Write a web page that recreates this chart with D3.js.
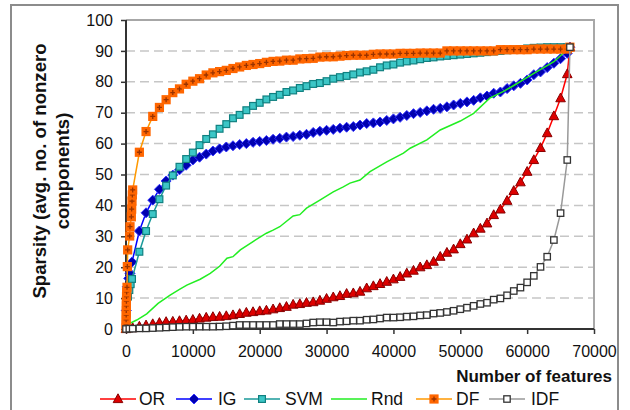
<!DOCTYPE html>
<html><head><meta charset="utf-8">
<script src="https://cdn.jsdelivr.net/npm/d3@7"></script>
<style>
html,body{margin:0;padding:0;background:#fff;}
svg{display:block;font-family:"Liberation Sans",Arial,sans-serif;}
</style></head>
<body><svg id="chart" width="630" height="410"></svg>
<script>
// ---------- DATA ----------
const seriesNames = ["OR","IG","SVM","Rnd","DF","IDF"];
const xTicks = [0,10000,20000,30000,40000,50000,60000,70000];
const yTicks = [0,10,20,30,40,50,60,70,80,90,100];

// shared sampling grid (number of features)
const grid = [1000,2000,3000,4000,5000,6000,7000,8000,9000,10000,11000,12000,13000,14000,15000,16000,17000,18000,19000,20000,
21000,22000,23000,24000,25000,26000,27000,28000,29000,30000,31000,32000,33000,34000,35000,36000,37000,38000,39000,40000,
41000,42000,43000,44000,45000,46000,47000,48000,49000,50000,51000,52000,53000,54000,55000,56000,57000,58000,59000,60000,
61000,62000,63000,64000,65000,66000,66400];

const orX = [0].concat(grid);
const orY = [0,0.3,0.8,1.2,1.6,2.0,2.3,2.4,2.6,2.8,3.0,3.4,3.7,3.9,4.0,4.2,4.5,4.9,5.3,5.5,5.8,6.0,6.4,6.8,7.2,7.9,8.1,8.5,8.7,9.2,9.8,
10.3,10.7,11.4,11.6,12.1,13.2,13.9,14.6,15.3,16.1,16.9,18.0,18.9,20.0,20.7,21.8,23.4,24.7,25.8,27.5,29.0,31.0,32.5,34.2,36.9,
38.7,41.5,44.7,47.5,50.9,54.7,58.6,63.4,68.9,74.7,82.5,91.2];

const igX = [50,200,400,600,900].concat(grid.slice(1));
const igY = [6,13.7,16.4,18.0,21.7,31.7,37.6,41.7,45.2,47.9,49.8,51.5,53.0,54.7,55.6,56.6,57.6,58.3,58.9,59.3,59.7,60.0,60.4,60.7,
61.0,61.4,61.7,62.1,62.3,62.7,63.0,63.6,64.0,64.3,64.6,65.0,65.3,65.5,66.0,66.5,66.7,67.0,67.5,68.0,68.5,69.1,69.7,70.1,70.6,
71.1,71.4,71.9,72.5,73.0,73.5,74.0,74.8,75.4,76.3,76.7,77.8,78.7,79.5,80.6,82.3,83.2,84.6,86.0,87.5,89.2,91.2];

const svmX = [100,300,500,700,900].concat(grid.slice(1));
const svmY = [5,10.5,12.6,14.5,16.2,25.0,31.7,37.2,42.0,46.4,49.7,52.5,55.0,57.1,59.5,61.5,63.0,64.8,66.3,68.2,69.3,70.8,72.2,73.2,
74.3,75.1,75.8,76.7,77.2,78.0,78.6,79.3,79.6,80.2,81.0,81.5,81.9,82.4,83.0,83.4,83.9,84.7,85.3,85.6,86.2,86.6,86.9,87.3,87.7,
87.9,88.2,88.4,88.6,88.8,89.0,89.2,89.4,89.6,89.8,90.0,90.2,90.4,90.6,90.8,91.0,91.1,91.2,91.2,91.2,91.2,91.2];

const rndX = [100,1600,3100,4800,6600,8000,9100,11100,12600,14000,15100,16000,17100,19000,21000,22000,23000,25000,26000,27000,
29000,31000,32500,33500,35000,36500,39000,41500,42500,45000,47000,50000,52000,54400,56400,58000,61000,64000,66400];
const rndY = [1.3,2.9,4.9,8.3,11.0,12.8,14.2,16.1,18.0,20.3,22.9,23.4,25.6,28.3,31.0,32.0,33.1,36.6,37.0,39.1,
41.7,44.4,46.0,47.2,48.2,50.9,54.1,56.9,58.5,61.2,64.4,67.3,69.8,74.7,76.8,78.8,82.7,86.5,91.2];

const dfX = [0,10,20,30,40,50,60,80,100,150,200,250,550,600,800,850,900,950].concat(grid);
const dfY = [0.3,1.5,3,4.5,6,7.5,9,10.5,12,13.5,20.2,25.6,30.1,33.1,36.3,38.8,41.4,43.4,45.0,57.2,63.9,68.8,71.7,74.2,76.5,77.7,79.2,80.2,
81.0,82.2,82.9,83.3,83.7,84.3,84.8,85.3,85.6,85.9,86.3,86.6,86.7,87.0,87.0,87.4,87.5,87.6,88.0,88.1,88.1,88.3,88.5,88.6,88.6,
88.6,88.9,89.0,89.0,89.0,89.2,89.2,89.2,89.3,89.3,89.3,89.3,90.0,90.0,90.0,90.0,90.0,90.0,90.0,90.0,90.4,90.4,90.4,90.4,90.4,
90.6,90.6,90.6,90.6,90.6,90.6,91.2];

const idfX = [0,500].concat(grid);
const idfY = [0,0.1,0.1,0.2,0.2,0.3,0.4,0.5,0.6,0.7,0.75,0.75,0.75,0.75,0.75,0.8,0.9,1.1,1.3,1.3,1.3,1.3,1.3,1.3,1.6,1.6,1.6,1.6,
1.8,2.1,2.2,2.2,2.1,2.4,2.5,2.7,2.7,3.0,3.1,3.4,3.7,3.7,3.8,4.0,4.1,4.4,4.5,5.0,5.2,5.5,5.9,6.4,6.9,7.5,8.1,8.5,9.5,9.9,10.9,
12.3,13.4,15.1,17.2,20.1,23.4,28.8,37.5,54.7,91.2];

// ---------- LAYOUT ----------
const svg = d3.select("#chart");
const L = 126, R = 594, T = 20, B = 329;
const x = d3.scaleLinear().domain([0,70000]).range([L,R]);
const y = d3.scaleLinear().domain([0,100]).range([B,T]);
const FONT = '"Liberation Sans",Arial,sans-serif';

// outer frame
svg.append("rect").attr("x",11).attr("y",5).attr("width",607).attr("height",420)
  .attr("fill","#fff").attr("stroke","#8c8c8c").attr("stroke-width",2);

// gridlines
svg.append("g").selectAll("line").data(yTicks.filter(d=>d>0&&d<100)).join("line")
  .attr("x1",L).attr("x2",R).attr("y1",d=>y(d)).attr("y2",d=>y(d))
  .attr("stroke","#c6c6c6").attr("stroke-width",1.5).attr("stroke-dasharray","9,5");

// plot box top/right
svg.append("line").attr("x1",L).attr("x2",R+1).attr("y1",T).attr("y2",T).attr("stroke","#8a8a8a").attr("stroke-width",1.5);
svg.append("line").attr("x1",R).attr("x2",R).attr("y1",T).attr("y2",B).attr("stroke","#a8a8a8").attr("stroke-width",2);

// axes
const yAxis = d3.axisLeft(y).tickValues(yTicks).tickSize(5).tickPadding(8);
const gy = svg.append("g").attr("transform",`translate(${L},0)`).call(yAxis);
const xAxis = d3.axisBottom(x).tickValues(xTicks).tickSize(5).tickPadding(12).tickFormat(d3.format("d"));
const gx = svg.append("g").attr("transform",`translate(0,${B})`).call(xAxis);
[gx,gy].forEach(g=>{
  g.select(".domain").attr("stroke","#333").attr("stroke-width",2);
  g.selectAll(".tick line").attr("stroke","#333").attr("stroke-width",1.5);
  g.selectAll("text").attr("font-family",FONT).attr("font-size",16).attr("fill","#111");
});
gx.select(".domain").attr("d",`M${L},0H${R}`);
gy.select(".domain").attr("d",`M0,${T}V${B}`);

// axis titles
svg.append("text").attr("x",612).attr("y",382).attr("text-anchor","end")
  .attr("font-family",FONT).attr("font-weight","bold").attr("font-size",17).attr("fill","#111")
  .text("Number of features");
const yt = svg.append("g").attr("transform","translate(46,171) rotate(-90)");
yt.append("text").attr("x",0).attr("y",0).attr("text-anchor","middle")
  .attr("font-family",FONT).attr("font-weight","bold").attr("font-size",18.6).attr("fill","#111")
  .text("Sparsity (avg. no. of nonzero");
yt.append("text").attr("x",0).attr("y",23).attr("text-anchor","middle")
  .attr("font-family",FONT).attr("font-weight","bold").attr("font-size",18.6).attr("fill","#111")
  .text("components)");

// ---------- SERIES ----------
const styles = {
  OR:  {line:"#ff0000", w:1.5, marker:"tri"},
  IG:  {line:"#0000ff", w:1.5, marker:"dia"},
  SVM: {line:"#1a9a9a", w:1.5, marker:"sq"},
  Rnd: {line:"#22ee22", w:1.5, marker:null},
  DF:  {line:"#ff9900", w:1.5, marker:"df"},
  IDF: {line:"#999999", w:1.5, marker:"hollow"}
};
const dataMap = {
  OR: d3.zip(orX,orY), IG: d3.zip(igX,igY), SVM: d3.zip(svmX,svmY),
  Rnd: d3.zip(rndX,rndY), DF: d3.zip(dfX,dfY), IDF: d3.zip(idfX,idfY)
};

function drawMarker(g, type, cx, cy){
  if(type==="tri"){
    g.append("path").attr("d",`M${cx},${cy-5.2}L${cx+4.8},${cy+3.6}L${cx-4.8},${cy+3.6}Z`)
      .attr("fill","#dd0000").attr("stroke","#880000").attr("stroke-width",1);
  } else if(type==="dia"){
    g.append("path").attr("d",`M${cx},${cy-5}L${cx+5},${cy}L${cx},${cy+5}L${cx-5},${cy}Z`)
      .attr("fill","#0000b0").attr("stroke","#3333ff").attr("stroke-width",1);
  } else if(type==="sq"){
    g.append("rect").attr("x",cx-3.4).attr("y",cy-3.4).attr("width",6.8).attr("height",6.8)
      .attr("fill","#3cc6c6").attr("stroke","#108080").attr("stroke-width",1.2);
  } else if(type==="df"){
    g.append("rect").attr("x",cx-4.6).attr("y",cy-4.6).attr("width",9.2).attr("height",9.2)
      .attr("fill","#ff6600");
    g.append("path").attr("d",`M${cx-2.5},${cy}H${cx+2.5}M${cx},${cy-2.5}V${cy+2.5}`)
      .attr("stroke","#993300").attr("stroke-width",1.3);
  } else if(type==="hollow"){
    g.append("rect").attr("x",cx-3.2).attr("y",cy-3.2).attr("width",6.4).attr("height",6.4)
      .attr("fill","#fff").attr("stroke","#333").attr("stroke-width",1.3);
  }
}

const line = d3.line().x(d=>x(d[0])).y(d=>y(d[1]));
const plot = svg.append("g");
seriesNames.forEach(name=>{
  const st = styles[name], pts = dataMap[name];
  const g = plot.append("g");
  g.append("path").attr("d",line(pts)).attr("fill","none").attr("stroke",st.line).attr("stroke-width",st.w);
  if(st.marker){ pts.forEach(p=>drawMarker(g, st.marker, x(p[0]), y(p[1]))); }
});

// ---------- LEGEND ----------
const legendLayout = [[100,139],[176,218],[244,285],[331,371],[416,456],[489,531]];
const LY = 399;
const lg = svg.append("g");
seriesNames.forEach((name,i)=>{
  const [lx,tx] = legendLayout[i], st = styles[name];
  lg.append("line").attr("x1",lx).attr("x2",lx+36).attr("y1",LY).attr("y2",LY).attr("stroke",st.line).attr("stroke-width",1.5);
  if(st.marker) drawMarker(lg, st.marker, lx+18, LY);
  lg.append("text").attr("x",tx).attr("y",LY+6).attr("font-family",FONT).attr("font-size",17.5).attr("fill","#111").text(name);
});
</script></body></html>
